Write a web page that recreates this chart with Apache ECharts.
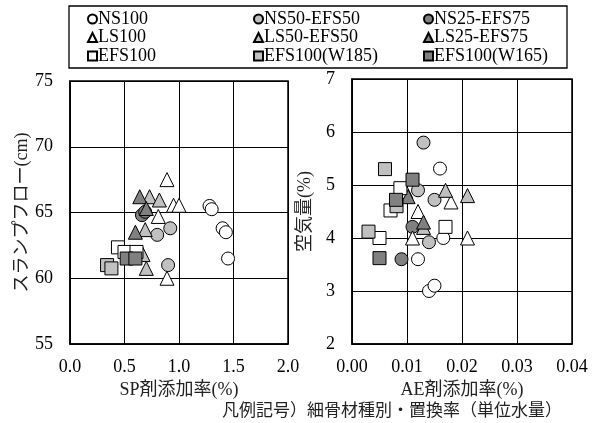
<!DOCTYPE html>
<html>
<head>
<meta charset="utf-8">
<script src="https://cdn.jsdelivr.net/npm/echarts@6/dist/echarts.min.js"></script>
<style>html,body{margin:0;padding:0;background:#fff;}#c{width:595px;height:423px;}</style>
</head>
<body>
<div id="c"></div>
<script>
// ---- Data ----
const groupNames = ['NS100','NS50-EFS50','NS25-EFS75','LS100','LS50-EFS50','LS25-EFS75','EFS100','EFS100(W185)','EFS100(W165)'];
// Left chart: SP admixture rate (%) vs slump flow (cm)
const spNS100 = [[1.28,65.5],[1.30,65.25],[1.40,63.8],[1.43,63.5],[1.45,61.5]];
const spNS50 = [[0.80,63.3],[0.92,63.8],[0.90,61.0]];
const spNS25 = [[0.66,64.8],[0.69,65.05]];
const spLS100 = [[0.89,67.5],[0.95,65.55],[1.00,65.55],[0.81,64.7],[0.89,60.0]];
const spLS50 = [[0.73,66.2],[0.82,65.95],[0.69,63.7],[0.67,61.8],[0.70,60.75]];
const spLS25 = [[0.64,66.2],[0.70,65.3],[0.60,63.5]];
const spEFS100 = [[0.44,62.35],[0.50,62.0],[0.61,62.0]];
const spW185 = [[0.34,61.0],[0.38,60.75]];
const spW165 = [[0.52,61.5],[0.60,61.5]];
// Right chart: AE admixture rate (%) vs air content (%)
const aeNS100 = [[0.016,5.31],[0.0166,4.0],[0.012,3.6],[0.014,3.0],[0.015,3.1]];
const aeNS50 = [[0.013,5.8],[0.012,4.9],[0.015,4.72],[0.014,3.92]];
const aeNS25 = [[0.011,4.21],[0.009,3.6]];
const aeLS100 = [[0.012,4.5],[0.011,4.0],[0.018,4.68],[0.021,4.0],[0.0098,4.88]];
const aeLS50 = [[0.013,4.2],[0.017,4.9],[0.021,4.8]];
const aeLS25 = [[0.0102,4.78],[0.013,4.3]];
const aeEFS100 = [[0.0088,4.94],[0.007,4.52],[0.005,4.0],[0.017,4.21]];
const aeW185 = [[0.006,5.3],[0.003,4.12],[0.0081,4.6]];
const aeW165 = [[0.011,5.1],[0.008,4.72],[0.005,3.62]];
// Axis ticks
const spTicks = {min:0, max:2, interval:0.5};
const sfTicks = {min:55, max:75, interval:5};
const aeTicks = {min:0, max:0.04, interval:0.01};
const airTicks = {min:2, max:7, interval:1};

const spData = [spNS100,spNS50,spNS25,spLS100,spLS50,spLS25,spEFS100,spW185,spW165];
const aeData = [aeNS100,aeNS50,aeNS25,aeLS100,aeLS50,aeLS25,aeEFS100,aeW185,aeW165];
const symbols = ['circle','circle','circle','triangle','triangle','triangle','rect','rect','rect'];
const fills = ['#ffffff','#c0c0c0','#808080','#ffffff','#c0c0c0','#808080','#ffffff','#c0c0c0','#808080'];
const sizes = {circle:13, triangle:14, rect:13};

const SERIF = 'Liberation Serif, Noto Sans CJK JP, serif';
const chart = echarts.init(document.getElementById('c'), null, {renderer:'canvas'});

const series = [];
groupNames.forEach((n,i)=>{
  [[spData[i],0],[aeData[i],1]].forEach(([d,idx])=>{
    series.push({
      name:n, type:'scatter', xAxisIndex:idx, yAxisIndex:idx, data:d,
      symbol:symbols[i], symbolSize:sizes[symbols[i]],
      itemStyle:{color:fills[i], borderColor:'#000', borderWidth:1, opacity:1},
      emphasis:{disabled:true}, animation:false
    });
  });
});

function axisCommon(){
  return {
    axisLine:{show:true, lineStyle:{color:'#000', width:1.5}},
    axisTick:{show:false},
    splitLine:{show:true, lineStyle:{color:'#000', width:1}},
    nameTextStyle:{color:'#222', fontFamily:SERIF, fontSize:18},
    nameLocation:'middle'
  };
}

const legendCommon = {
  orient:'vertical', top:10, padding:0, itemWidth:9, itemHeight:9, itemGap:0.5,
  textStyle:{fontFamily:SERIF, fontSize:18, color:'#000', lineHeight:18, padding:[0,0,0,-4]},
  selectedMode:false
};

const option = {
  backgroundColor:'#fff',
  animation:false,
  textStyle:{fontFamily:SERIF},
  title:{
    text:'凡例記号）細骨材種別・置換率（単位水量）',
    left:222, top:401, padding:0,
    textStyle:{fontFamily:'Noto Sans CJK JP, sans-serif', fontSize:17, fontWeight:'normal', color:'#222'}
  },
  graphic:[{
    type:'rect', shape:{x:69, y:6, width:498, height:62},
    style:{fill:'none', stroke:'#000', lineWidth:1.3}, z:0, silent:true
  }],
  legend:[
    Object.assign({}, legendCommon, {left:87, data:groupNames.filter((_,i)=>i%3===0)}),
    Object.assign({}, legendCommon, {left:253, data:groupNames.filter((_,i)=>i%3===1)}),
    Object.assign({}, legendCommon, {left:423, data:groupNames.filter((_,i)=>i%3===2)})
  ],
  grid:[
    {left:70, top:81, width:218, height:263, show:true, borderColor:'#000', borderWidth:1.5, containLabel:false},
    {left:352, top:79, width:220, height:265, show:true, borderColor:'#000', borderWidth:1.5, containLabel:false}
  ],
  xAxis:[
    Object.assign(axisCommon(), {gridIndex:0, type:'value', min:spTicks.min, max:spTicks.max, interval:spTicks.interval,
      name:'SP剤添加率(%)', nameGap:30,
      axisLabel:{color:'#000', fontFamily:SERIF, fontSize:18, margin:14, formatter:v=>v.toFixed(1)}}),
    Object.assign(axisCommon(), {gridIndex:1, type:'value', min:aeTicks.min, max:aeTicks.max, interval:aeTicks.interval,
      name:'AE剤添加率(%)', nameGap:30,
      axisLabel:{color:'#000', fontFamily:SERIF, fontSize:18, margin:14, formatter:v=>v.toFixed(2)}})
  ],
  yAxis:[
    Object.assign(axisCommon(), {gridIndex:0, type:'value', min:sfTicks.min, max:sfTicks.max, interval:sfTicks.interval,
      name:'スランプフロー(cm)', nameGap:36,
      axisLabel:{color:'#000', fontFamily:SERIF, fontSize:18, margin:17}}),
    Object.assign(axisCommon(), {gridIndex:1, type:'value', min:airTicks.min, max:airTicks.max, interval:airTicks.interval,
      name:'空気量(%)', nameGap:38,
      axisLabel:{color:'#000', fontFamily:SERIF, fontSize:18, margin:17}})
  ],
  series:series
};
chart.setOption(option);
</script>
</body>
</html>
